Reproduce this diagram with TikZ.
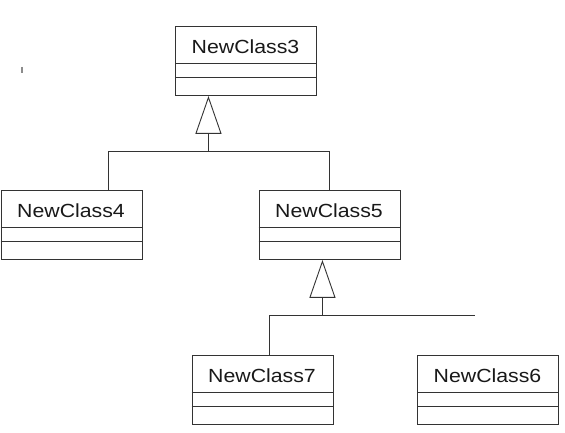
\documentclass[tikz,border=0pt]{standalone}
\usepackage{fontspec}
\setmainfont{Liberation Sans}
\newfontfamily\clsfont[FakeStretch=1.12]{Liberation Sans}
\usetikzlibrary{calc}
\begin{document}
\begin{tikzpicture}[x=1pt,y=-1pt]
\tikzset{
  ln/.style={draw=black!80, line width=0.9pt},
  cls/.style={ln, fill=white, minimum width=141pt, minimum height=69pt, inner sep=0pt, anchor=north west},
  clstext/.style={font=\clsfont\fontsize{19}{23}\selectfont, inner sep=0pt, text=black!90},
  gen/.style={ln, fill=white, line join=miter}
}
\useasboundingbox (0,0) rectangle (565,433);
\newcommand\umlclass[4]{%
  \node[cls] (#1) at (#2,#3) {};
  \node[clstext] (#1t) at (#2+70.5,#3+20.5) {#4};
  \draw[ln] ([yshift=-37pt]#1.north west) -- ([yshift=-37pt]#1.north east);
  \draw[ln] ([yshift=-51pt]#1.north west) -- ([yshift=-51pt]#1.north east);
}
\umlclass{c3}{175}{26}{NewClass3}
\umlclass{c4}{0.5}{190}{NewClass4}
\umlclass{c5}{258.5}{190}{NewClass5}
\umlclass{c7}{191.5}{355}{NewClass7}
\umlclass{c6}{417}{355}{NewClass6}
% stray mark
\draw[draw=black!45, line width=1.2pt] (22,67) -- (22,73);
% generalization 1
\coordinate (a1) at ($([xshift=-37.5pt]c3.south)+(0,1.5)$);
\coordinate (a1b) at ($(a1)+(0,36)$);
\coordinate (b1) at ($(a1)+(0,54.5)$);
\draw[ln] (a1b) -- (b1);
\draw[ln] ([xshift=36.5pt]c4.north) |- (b1) -| (c5.north);
\draw[gen] (a1) -- ++(12.5,36) -- ++(-25,0) -- cycle;
% generalization 2
\coordinate (a2) at ($([xshift=-7pt]c5.south)+(0,1.5)$);
\coordinate (a2b) at ($(a2)+(0,36)$);
\coordinate (b2) at ($(a2)+(0,54.5)$);
\coordinate (e2) at (475,0 |- b2);
\draw[ln] (a2b) -- (b2);
\draw[ln] ([xshift=7pt]c7.north) |- (b2) -- (e2 |- b2);
\draw[gen] (a2) -- ++(12.5,36) -- ++(-25,0) -- cycle;
\end{tikzpicture}
\end{document}
